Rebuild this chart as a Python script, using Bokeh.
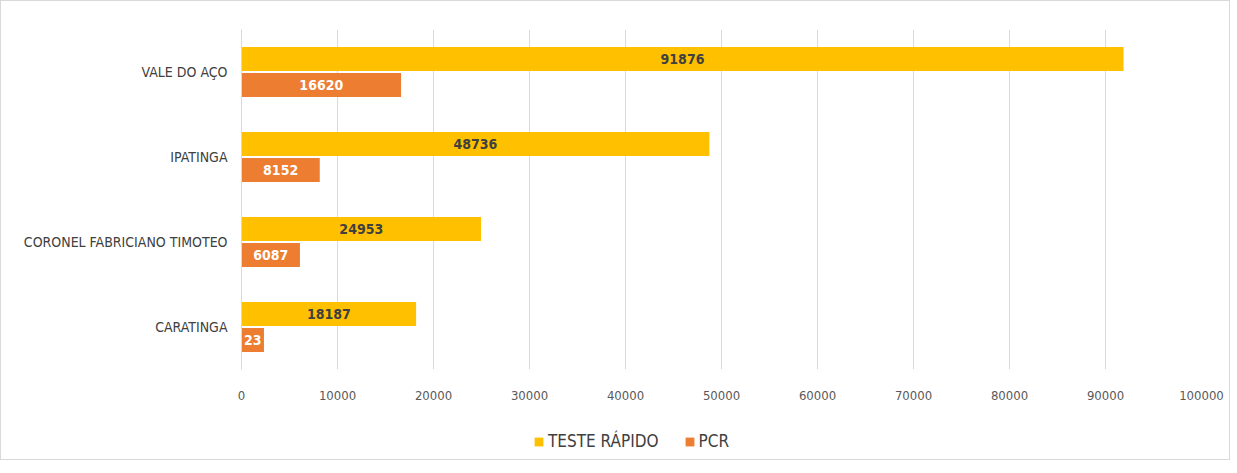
from bokeh.plotting import figure
from bokeh.layouts import column
from bokeh.models import ColumnDataSource, FactorRange, Legend, LegendItem, SingleIntervalTicker, NumeralTickFormatter
from bokeh.transform import dodge
from bokeh.core.properties import value
from bokeh.embed import file_html
from bokeh.resources import INLINE

categories = ["VALE DO AÇO", "IPATINGA", "CORONEL FABRICIANO TIMOTEO", "CARATINGA"]
teste_rapido = [91876, 48736, 24953, 18187]
pcr = [16620, 8152, 6087, 2340]
series_names = ["TESTE RÁPIDO", "PCR"]

FONT = "'DejaVu Sans Condensed', Roboto, sans-serif"
YELLOW = "#FFC000"
ORANGE = "#ED7D31"

def label_text(v):
    s = str(v)
    # label clipped by a narrow bar in the original
    return s[:2] if v < 3000 else s

src = ColumnDataSource(dict(
    cat=categories,
    tr=teste_rapido,
    pcr=pcr,
    tr_mid=[v / 2 for v in teste_rapido],
    pcr_mid=[v / 2 for v in pcr],
    tr_lab=[label_text(v) for v in teste_rapido],
    pcr_lab=[label_text(v) for v in pcr],
))

W = 1228
p = figure(width=W, height=420, output_backend="svg", toolbar_location=None,
           y_range=FactorRange(*categories[::-1], range_padding=0),
           x_range=(0, 100000),
           min_border_left=240, min_border_right=28, min_border_top=28, min_border_bottom=52)
p.outline_line_color = None

off = 0.153
h = 0.282
p.hbar(y=dodge("cat", off, range=p.y_range), left=0, right="tr", height=h,
       source=src, color=YELLOW, line_color=None)
p.hbar(y=dodge("cat", -off, range=p.y_range), left=0, right="pcr", height=h,
       source=src, color=ORANGE, line_color=None)

p.text(x="tr_mid", y=dodge("cat", off, range=p.y_range), text="tr_lab", source=src,
       text_align="center", text_baseline="middle", text_font=value(FONT),
       text_font_style="bold", text_font_size="14px", text_color="#404040")
p.text(x="pcr_mid", y=dodge("cat", -off, range=p.y_range), text="pcr_lab", source=src,
       text_align="center", text_baseline="middle", text_font=value(FONT),
       text_font_style="bold", text_font_size="14px", text_color="white")

# axes
p.xaxis.ticker = SingleIntervalTicker(interval=10000)
p.xaxis.formatter = NumeralTickFormatter(format="0")
p.xaxis.axis_line_color = None
p.xaxis.major_tick_line_color = None
p.xaxis.minor_tick_line_color = None
p.xaxis.major_tick_out = 0
p.xaxis.minor_tick_out = 0
p.xaxis.major_label_standoff = 21
p.xaxis.major_label_text_font = FONT
p.xaxis.major_label_text_font_size = "13px"
p.xaxis.major_label_text_color = "#595959"

p.yaxis.axis_line_color = "#d9d9d9"
p.yaxis.major_tick_line_color = None
p.yaxis.minor_tick_line_color = None
p.yaxis.major_tick_out = 0
p.yaxis.minor_tick_out = 0
p.yaxis.major_label_standoff = 14
p.yaxis.major_label_text_font = FONT
p.yaxis.major_label_text_font_size = "14px"
p.yaxis.major_label_text_color = "#404040"

p.xgrid.grid_line_color = "#d9d9d9"
p.ygrid.grid_line_color = None

# legend strip below the chart (swatch renderers sit outside the visible range)
pl = figure(width=W, height=38, output_backend="svg", toolbar_location=None,
            x_range=(0, 1), y_range=(0, 1),
            min_border_left=0, min_border_right=0, min_border_top=0, min_border_bottom=0)
pl.axis.visible = False
pl.grid.visible = False
pl.outline_line_color = None
lr1 = pl.hbar(y=[-5], left=[0], right=[0], height=1, color=YELLOW, line_color=None)
lr2 = pl.hbar(y=[-5], left=[0], right=[0], height=1, color=ORANGE, line_color=None)
legend = Legend(items=[LegendItem(label=series_names[0], renderers=[lr1]),
                       LegendItem(label=series_names[1], renderers=[lr2])],
                orientation="horizontal", location=(292, 8),
                label_text_font=FONT, label_text_font_size="17px", label_text_color="#404040",
                glyph_width=11, glyph_height=11, spacing=25, label_standoff=4,
                border_line_color=None, background_fill_alpha=0, padding=0, margin=0)
pl.add_layout(legend, "center")

layout = column(p, pl, spacing=0, styles={"border": "1px solid #d9d9d9"})
open("out.html", "w").write(file_html(layout, INLINE))
